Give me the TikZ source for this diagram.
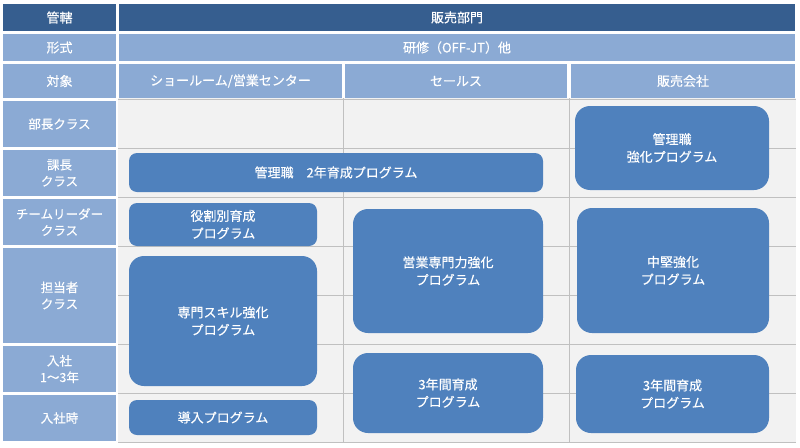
\documentclass[tikz,border=0pt]{standalone}
\usepackage{fontspec}
\setmainfont{Noto Sans CJK JP}[FakeBold=0.35,AutoFakeBold=0.35]
\definecolor{hdrdark}{HTML}{365E8F}
\definecolor{hdrlight}{HTML}{8BAAD4}
\definecolor{boxblue}{HTML}{4F81BD}
\definecolor{gridbg}{HTML}{F2F2F2}
\definecolor{gridline}{HTML}{C0C0C0}
\newcommand\mycell[7]{\node[#1, minimum width={#5-#3}, minimum height={#6-#4}] (#2) at ({(#3+#5)/2},{(#4+#6)/2}) {#7};}
\begin{document}
\begin{tikzpicture}[x=1pt,y=-1pt,
  base/.style={inner sep=0pt, outer sep=0pt, text=white, align=center, font=\fontsize{13}{17.5}\selectfont\bfseries},
  darkcell/.style={base, fill=hdrdark},
  lightcell/.style={base, fill=hdrlight},
  labelcell/.style={base, fill=hdrlight, font=\fontsize{12.5}{16.5}\selectfont\bfseries},
  progbig/.style={base, fill=boxblue, rounded corners=15pt},
  progsmall/.style={base, fill=boxblue, rounded corners=8pt},
  grid/.style={draw=gridline, line width=1pt}
]
\useasboundingbox (0,0) rectangle (800,447);
% grid background
\fill[gridbg] (118,98) rectangle (796,443);
\foreach \yy in {99,148,197,246,295,344,393,442} \draw[grid] (118,\yy) -- (796,\yy);
\foreach \xx in {343,569} \draw[grid] (\xx,98) -- (\xx,443);
% header rows
\mycell{darkcell}{hk}{3}{4}{116}{31}{管轄}
\mycell{darkcell}{hs}{119}{4}{795}{31}{販売部門}
\mycell{lightcell}{fk}{3}{34}{116}{61}{形式}
\mycell{lightcell}{fs}{119}{34}{795}{61}{研修（OFF-JT）他}
\mycell{lightcell}{tk}{3}{64}{116}{98}{対象}
\mycell{lightcell}{t1}{119}{64}{342}{98}{ショールーム/営業センター}
\mycell{lightcell}{t2}{345}{64}{567}{98}{セールス}
\mycell{lightcell}{t3}{571}{64}{795}{98}{販売会社}
% row labels
\mycell{labelcell}{r1}{3}{101}{116}{147}{部長クラス}
\mycell{labelcell}{r2}{3}{150}{116}{196}{課長\\クラス}
\mycell{labelcell}{r3}{3}{199}{116}{245}{チームリーダー\\クラス}
\mycell{labelcell}{r4}{3}{248}{116}{343}{担当者\\クラス}
\mycell{labelcell}{r5}{3}{346}{116}{392}{入社\\1～3年}
\mycell{labelcell}{r6}{3}{395}{116}{441}{入社時}
% programs
\mycell{progbig}{p1}{575}{106}{769}{190}{管理職\\強化プログラム}
\mycell{progsmall}{p2}{129}{153}{543}{192}{管理職　2年育成プログラム}
\mycell{progsmall}{p3}{129}{203}{317}{246}{役割別育成\\プログラム}
\mycell{progbig}{p4}{129}{256}{317}{386}{専門スキル強化\\プログラム}
\mycell{progsmall}{p5}{129}{400}{317}{435}{導入プログラム}
\mycell{progbig}{p6}{353}{209}{543}{333}{営業専門力強化\\プログラム}
\mycell{progbig}{p7}{577}{208}{769}{333}{中堅強化\\プログラム}
\mycell{progbig}{p8}{353}{353}{543}{433}{3年間育成\\プログラム}
\mycell{progbig}{p9}{576}{355}{769}{433}{3年間育成\\プログラム}
\end{tikzpicture}
\end{document}
